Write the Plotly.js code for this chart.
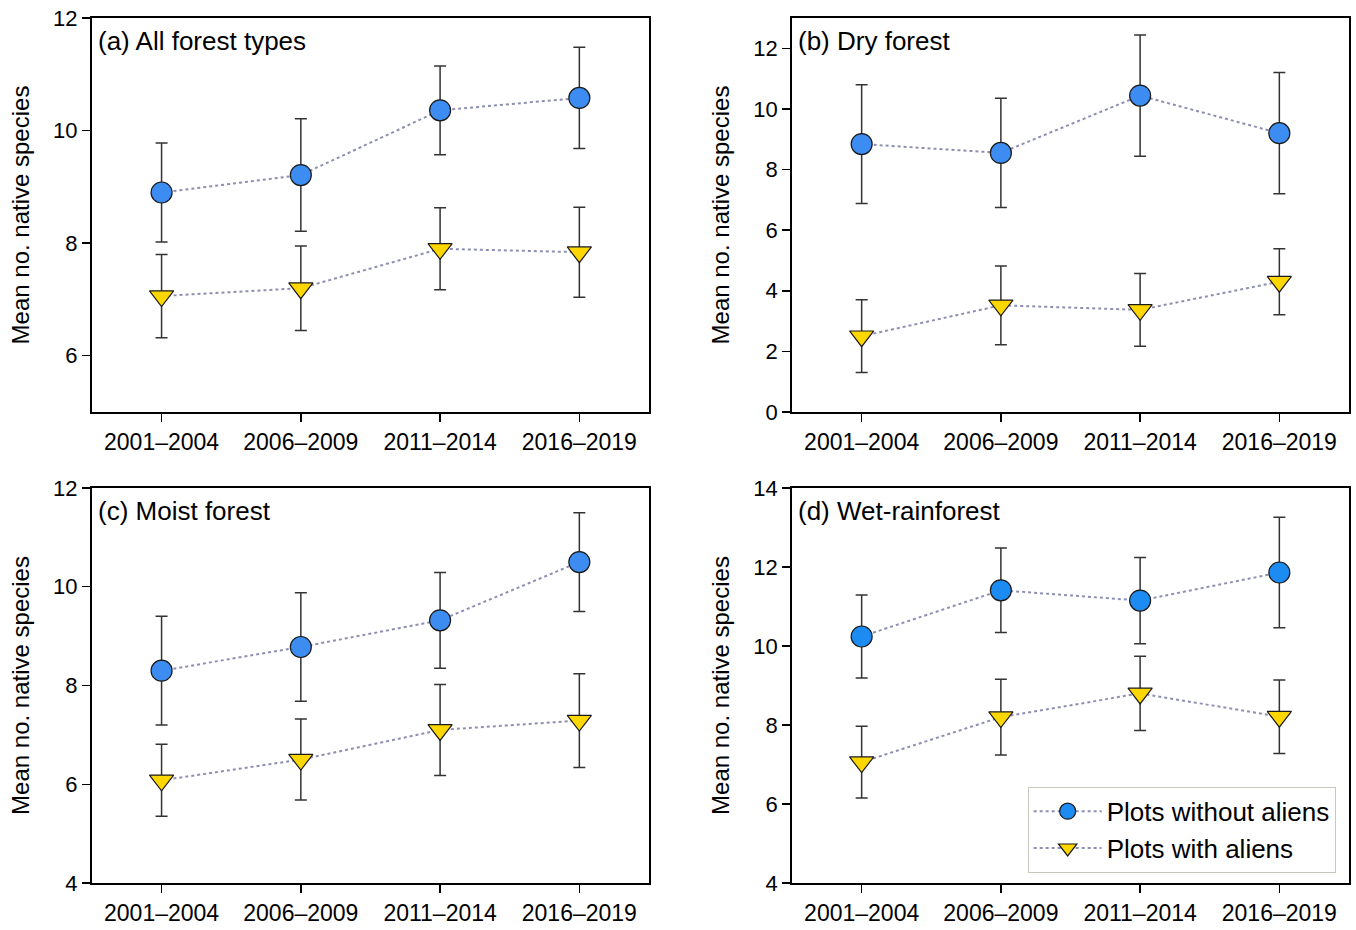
<!DOCTYPE html>
<html>
<head>
<meta charset="utf-8">
<script src="https://cdn.plot.ly/plotly-3.0.1.min.js"></script>
<style>html,body{margin:0;padding:0;background:#fff;}#chart{width:1356px;height:930px;}</style>
</head>
<body>
<div id="chart"></div>
<script>
// ---- Data ----
var periods = ["2001–2004", "2006–2009", "2011–2014", "2016–2019"];
var panelTitles = ["(a) All forest types", "(b) Dry forest", "(c) Moist forest", "(d) Wet-rainforest"];
var seriesNames = ["Plots without aliens", "Plots with aliens"];

// (a) All forest types
var allWithout = [8.90, 9.21, 10.36, 10.58];
var allWithoutErr = [0.88, 1.00, 0.79, 0.90];
var allWith = [7.06, 7.20, 7.90, 7.84];
var allWithErr = [0.74, 0.75, 0.73, 0.80];

// (b) Dry forest
var dryWithout = [8.84, 8.55, 10.44, 9.20];
var dryWithoutErr = [1.96, 1.80, 2.00, 2.00];
var dryWith = [2.50, 3.52, 3.37, 4.30];
var dryWithErr = [1.20, 1.30, 1.20, 1.09];

// (c) Moist forest
var moistWithout = [8.30, 8.78, 9.32, 10.50];
var moistWithoutErr = [1.10, 1.10, 0.97, 1.00];
var moistWith = [6.08, 6.50, 7.10, 7.29];
var moistWithErr = [0.73, 0.82, 0.92, 0.95];

// (d) Wet-rainforest
var wetWithout = [10.24, 11.41, 11.15, 11.86];
var wetWithoutErr = [1.05, 1.07, 1.09, 1.40];
var wetWith = [7.06, 8.20, 8.80, 8.21];
var wetWithErr = [0.91, 0.96, 0.94, 0.93];

var yRanges = [[5, 12], [0, 13], [4, 12], [4, 14]];

// ---- Styles ----
var FONT = "Liberation Sans, Arial, Helvetica, sans-serif";
var blueColors = ["#3d8cf2", "#3d8cf2", "#3d8cf2", "#1c8cf2"];
var yellow = "#ffd700";
var lineColor = "#8e8eb4";

var panels = [
  [allWithout, allWithoutErr, allWith, allWithErr],
  [dryWithout, dryWithoutErr, dryWith, dryWithErr],
  [moistWithout, moistWithoutErr, moistWith, moistWithErr],
  [wetWithout, wetWithoutErr, wetWith, wetWithErr]
];

var traces = [];
panels.forEach(function (p, i) {
  var sfx = i === 0 ? "" : String(i + 1);
  var showLeg = (i === 3);
  traces.push({
    type: "scatter", mode: "lines+markers",
    x: periods, y: p[0], name: seriesNames[0],
    xaxis: "x" + sfx, yaxis: "y" + sfx,
    showlegend: showLeg,
    line: {color: lineColor, width: 2, dash: "dot"},
    marker: {symbol: "circle", size: 21, color: blueColors[i], line: {color: "#1a1a1a", width: 1.2}},
    error_y: {type: "data", array: p[1], visible: true, color: "#333333", thickness: 1.5, width: 6}
  });
  traces.push({
    type: "scatter", mode: "lines+markers",
    x: periods, y: p[2], name: seriesNames[1],
    xaxis: "x" + sfx, yaxis: "y" + sfx,
    showlegend: showLeg,
    line: {color: lineColor, width: 2, dash: "dot"},
    marker: {symbol: "triangle-down", size: 21, color: yellow, line: {color: "#1a1a1a", width: 1.2}},
    error_y: {type: "data", array: p[3], visible: true, color: "#333333", thickness: 1.5, width: 6}
  });
});

var xDomains = [[0.0678, 0.4786], [0.5841, 0.9948], [0.0678, 0.4786], [0.5841, 0.9948]];
var yDomains = [[0.557, 0.9806], [0.557, 0.9806], [0.0505, 0.4753], [0.0505, 0.4753]];

var layout = {
  width: 1356, height: 930,
  margin: {l: 0, r: 0, t: 0, b: 0},
  paper_bgcolor: "#ffffff", plot_bgcolor: "#ffffff",
  font: {family: FONT, size: 22, color: "#000000"},
  showlegend: true,
  legend: {
    x: 0.985, y: 0.154, xanchor: "right", yanchor: "top",
    bgcolor: "#ffffff", bordercolor: "#c8c8bc", borderwidth: 1,
    font: {family: FONT, size: 26, color: "#000000"},
    itemwidth: 68, tracegroupgap: 0
  },
  annotations: []
};

for (var i = 0; i < 4; i++) {
  var sfx = i === 0 ? "" : String(i + 1);
  layout["xaxis" + sfx] = {
    domain: xDomains[i], anchor: "y" + sfx,
    type: "category", range: [-0.5, 3.5],
    showline: true, linecolor: "#000000", linewidth: 2, mirror: true,
    ticks: "outside", ticklen: 8, tickwidth: 1.5, tickcolor: "#000000",
    showgrid: false, zeroline: false, fixedrange: true,
    tickfont: {family: FONT, size: 23, color: "#000000"}
  };
  layout["yaxis" + sfx] = {
    domain: yDomains[i], anchor: "x" + sfx,
    range: yRanges[i], tick0: 0, dtick: 2,
    showline: true, linecolor: "#000000", linewidth: 2, mirror: true,
    ticks: "outside", ticklen: 8, tickwidth: 1.5, tickcolor: "#000000",
    showgrid: false, zeroline: false, fixedrange: true,
    tickfont: {family: FONT, size: 22, color: "#000000"},
    title: {text: "Mean no. native species", font: {family: FONT, size: 24, color: "#000000"}, standoff: 17}
  };
  layout.annotations.push({
    text: panelTitles[i], xref: "x" + sfx + " domain", yref: "y" + sfx + " domain",
    x: 0.008, y: 0.985, xanchor: "left", yanchor: "top", showarrow: false,
    font: {family: FONT, size: 26, color: "#000000"}
  });
}

Plotly.newPlot("chart", traces, layout, {displayModeBar: false, staticPlot: true});
</script>
</body>
</html>
